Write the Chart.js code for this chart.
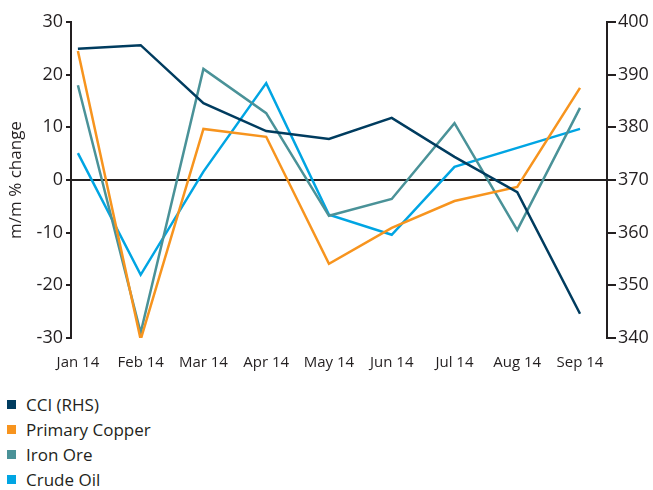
<!DOCTYPE html>
<html>
<head>
<meta charset="utf-8">
<script src="https://cdn.jsdelivr.net/npm/chart.js@4.4.1/dist/chart.umd.min.js"></script>
<style>
  body { margin: 0; background: #fff; font-family: "Open Sans", sans-serif; }
  #wrap { width: 653px; height: 380px; position: relative; }
  #legend { padding-top: 12px; }
  .item { height: 25px; line-height: 25px; font-size: 17px; color: #231f20; display: flex; align-items: center; }
  .box { width: 9px; height: 9px; margin-left: 7px; margin-right: 10px; }
</style>
</head>
<body>
<div id="wrap"><canvas id="myChart"></canvas></div>
<div id="legend"></div>
<script>
  // months on the x axis
  const months = ['Jan 14', 'Feb 14', 'Mar 14', 'Apr 14', 'May 14', 'Jun 14', 'Jul 14', 'Aug 14', 'Sep 14'];

  // CCI index, right hand scale
  const cci = [394.9, 395.6, 384.6, 379.3, 377.8, 381.8, 374.4, 367.7, 344.6];
  // m/m % change, left scale
  const copper = [24.5, -30.3, 9.7, 8.2, -15.9, -9.1, -4.0, -1.3, 17.5];
  const ironOre = [18.0, -29.0, 21.1, 12.7, -6.8, -3.6, 10.8, -9.5, 13.7];
  const crudeOil = [5.1, -18.0, 1.6, 18.4, -6.6, -10.4, 2.5, 6.1, 9.7];

  const names = ['CCI (RHS)', 'Primary Copper', 'Iron Ore', 'Crude Oil'];
  const colors = ['#003c5f', '#f7941e', '#4a9298', '#00a5e3'];

  const leftTicks = [-30, -20, -10, 0, 10, 20, 30];
  const rightTicks = [340, 350, 360, 370, 380, 390, 400];

  const dark = '#231f20';

  function pts(arr) {
    return arr.map((v, i) => ({ x: i, y: v }));
  }

  function line(label, arr, color, axis) {
    return {
      label: label,
      data: pts(arr),
      borderColor: color,
      backgroundColor: color,
      borderWidth: 2.5,
      pointRadius: 0,
      tension: 0,
      yAxisID: axis
    };
  }

  const config = {
    type: 'line',
    data: {
      datasets: [
        line(names[0], cci, colors[0], 'y2'),
        line(names[1], copper, colors[1], 'y'),
        line(names[2], ironOre, colors[2], 'y'),
        line(names[3], crudeOil, colors[3], 'y')
      ]
    },
    options: {
      responsive: true,
      maintainAspectRatio: false,
      animation: false,
      layout: { padding: { top: 22, right: 0, bottom: 0, left: 0 } },
      plugins: { legend: { display: false }, tooltip: { enabled: false } },
      scales: {
        x: {
          type: 'linear',
          min: -0.11,
          max: 8.43,
          afterBuildTicks: (s) => { s.ticks = months.map((m, i) => ({ value: i })); },
          afterFit: (s) => { s.height = 42; },
          border: { display: false },
          grid: { display: false },
          ticks: {
            callback: (v) => months[v],
            color: dark,
            font: { family: 'Open Sans', size: 15 },
            padding: 8,
            maxRotation: 0
          }
        },
        y: {
          position: 'left',
          min: -30,
          max: 30,
          afterBuildTicks: (s) => { s.ticks = leftTicks.map(v => ({ value: v })); },
          afterFit: (s) => { s.width = 71; },
          border: { display: true, color: dark, width: 2 },
          grid: {
            color: (c) => c.tick && c.tick.value === 0 ? dark : 'rgba(0,0,0,0)',
            lineWidth: 2,
            tickColor: dark,
            tickLength: 5,
            drawTicks: true
          },
          ticks: {
            color: dark,
            font: { family: 'Open Sans', size: 18 },
            padding: 3
          },
          title: {
            display: true,
            text: 'm/m % change',
            color: dark,
            font: { family: 'Open Sans', size: 17 },
            padding: { top: 6, bottom: 0 }
          }
        },
        y2: {
          position: 'right',
          min: 340,
          max: 400,
          afterBuildTicks: (s) => { s.ticks = rightTicks.map(v => ({ value: v })); },
          afterFit: (s) => { s.width = 46; },
          border: { display: true, color: dark, width: 2 },
          grid: {
            drawOnChartArea: false,
            lineWidth: 2,
            color: dark,
            tickColor: dark,
            tickLength: 9
          },
          ticks: {
            color: dark,
            font: { family: 'Open Sans', size: 18 },
            padding: 2
          }
        }
      }
    }
  };

  const myChart = new Chart(document.getElementById('myChart'), config);

  // legend below the chart, one row per series
  const legend = document.getElementById('legend');
  names.forEach((n, i) => {
    const row = document.createElement('div');
    row.className = 'item';
    row.innerHTML = '<span class="box" style="background:' + colors[i] + '"></span>' + n;
    legend.appendChild(row);
  });
</script>
</body>
</html>
